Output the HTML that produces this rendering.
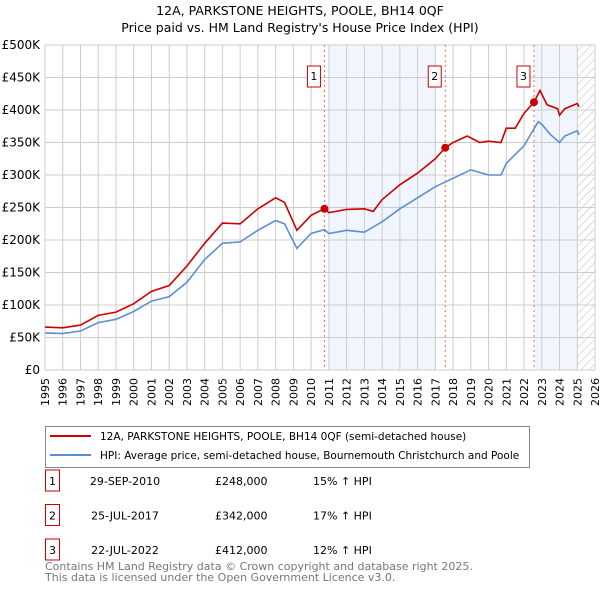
<!DOCTYPE html>
<html><head><meta charset="utf-8"><style>
body{margin:0;background:#fff;font-family:"Liberation Sans","DejaVu Sans",sans-serif;}
svg text{font-family:"DejaVu Sans","Liberation Sans",sans-serif;}
</style></head><body>
<svg width="600" height="590" xmlns="http://www.w3.org/2000/svg">
<defs><pattern id="hatch" width="6" height="6" patternUnits="userSpaceOnUse" patternTransform="rotate(45)"><line x1="0" y1="0" x2="0" y2="6" stroke="#bbb" stroke-width="1"/></pattern></defs>
<text x="300" y="15" text-anchor="middle" font-size="12.5">12A, PARKSTONE HEIGHTS, POOLE, BH14 0QF</text>
<text x="300" y="32" text-anchor="middle" font-size="12.5">Price paid vs. HM Land Registry's House Price Index (HPI)</text>
<g id="plot"></g>
<g id="legend">
<rect x="45.5" y="426.5" width="484" height="41" fill="#fff" stroke="#888"/>
<line x1="50" y1="436" x2="91" y2="436" stroke="#cc0000" stroke-width="2"/>
<text x="100" y="440" font-size="10.5">12A, PARKSTONE HEIGHTS, POOLE, BH14 0QF (semi-detached house)</text>
<line x1="50" y1="455" x2="91" y2="455" stroke="#5b8fd4" stroke-width="2"/>
<text x="100" y="459" font-size="10.5">HPI: Average price, semi-detached house, Bournemouth Christchurch and Poole</text>
</g>
<g id="table" font-size="11"></g>
<text x="45" y="570" font-size="11" fill="#777">Contains HM Land Registry data © Crown copyright and database right 2025.</text>
<text x="45" y="581" font-size="11" fill="#777">This data is licensed under the Open Government Licence v3.0.</text>
</svg>
<script>
const hpiYears=[1995,1996,1997,1998,1999,2000,2001,2002,2003,2004,2005,2006,2007,2008,2008.5,2009.2,2010,2010.75,2011,2012,2013,2014,2015,2016,2017,2018,2019,2020,2020.7,2021,2022,2022.8,2023,2023.5,2024,2024.3,2025,2025.1];
const hpiValues=[57,56,60,73,78,90,106,113,135,170,195,197,215,230,225,187,210,216,210,215,212,228,248,265,282,295,308,300,300,318,345,382,378,362,350,360,368,362];
const redYears=[1995,1996,1997,1998,1999,2000,2001,2002,2003,2004,2005,2006,2007,2008,2008.5,2009.2,2010,2010.75,2011,2012,2013,2013.5,2014,2015,2016,2017,2017.56,2018,2018.8,2019.5,2020,2020.7,2021,2021.5,2022,2022.56,2022.9,2023.3,2023.9,2024,2024.3,2025,2025.1];
const redValues=[66,65,69,84,89,102,121,130,160,195,226,225,248,265,258,215,238,248,242,247,248,244,262,285,303,325,342,350,360,350,352,350,372,372,395,412,430,408,402,392,402,410,405];
const saleYears=[2010.75,2017.56,2022.56];
const saleValues=[248,342,412];
const saleLabels=["1","2","3"];
const saleDates=["29-SEP-2010","25-JUL-2017","22-JUL-2022"];
const salePrices=["£248,000","£342,000","£412,000"];
const saleHpi=["15% ↑ HPI","17% ↑ HPI","12% ↑ HPI"];
const yTicks=[0,50,100,150,200,250,300,350,400,450,500];
const yTickLabels=["£0","£50K","£100K","£150K","£200K","£250K","£300K","£350K","£400K","£450K","£500K"];
const xTicks=[1995,1996,1997,1998,1999,2000,2001,2002,2003,2004,2005,2006,2007,2008,2009,2010,2011,2012,2013,2014,2015,2016,2017,2018,2019,2020,2021,2022,2023,2024,2025,2026];
const shadeStarts=[2011.0,2022.56];
const shadeEnds=[2017.0,2025.0];

const NS="http://www.w3.org/2000/svg";
const X0=45,X1=595,Y0=370,Y1=45;
const xs=y=>X0+(y-1995)/(2026-1995)*(X1-X0);
const ys=v=>Y0-v/500*(Y0-Y1);
const plot=document.getElementById('plot');
function mk(tag,attrs,parent){const e=document.createElementNS(NS,tag);for(const k in attrs)e.setAttribute(k,attrs[k]);(parent||plot).appendChild(e);return e;}
shadeStarts.forEach((s,i)=>{const r=mk('rect',{x:xs(s),y:Y1,width:xs(shadeEnds[i])-xs(s),height:Y0-Y1,fill:'#eef3fd',opacity:0.8});

});
const h=mk('rect',{x:xs(2025),y:Y1,width:X1-xs(2025),height:Y0-Y1,fill:'url(#hatch)'});


xTicks.forEach(t=>{const l=mk('line',{x1:xs(t),x2:xs(t),y1:Y1,y2:Y0,stroke:'#ccc','stroke-width':1});


const tx=mk('text',{x:0,y:0,'font-size':11,'text-anchor':'end',transform:`translate(${xs(t)+4},${Y0+8}) rotate(-90)`});
tx.textContent=t;

});
yTicks.forEach((t,i)=>{const l=mk('line',{x1:X0,x2:X1,y1:ys(t),y2:ys(t),stroke:'#ccc','stroke-width':1});


const tx=mk('text',{x:X0-5,y:ys(t)+4,'font-size':12,'text-anchor':'end'});
tx.textContent=yTickLabels[i];

});
saleYears.forEach((s,i)=>{const l=mk('line',{x1:xs(s),x2:xs(s),y1:Y1,y2:Y0,stroke:'#e66','stroke-width':1,'stroke-dasharray':'2,3'});

});
function path(xa,va,color,name){const d=xa.map((x,i)=>(i?'L':'M')+xs(x).toFixed(1)+','+ys(va[i]).toFixed(1)).join('');
const p=mk('path',{d:d,fill:'none',stroke:color,'stroke-width':1.6});

}
path(hpiYears,hpiValues,'#5b8fd4','hpi-line');
path(redYears,redValues,'#cc0000','property-price-line');
saleYears.forEach((s,i)=>{const c=mk('circle',{cx:xs(s),cy:ys(saleValues[i]),r:4,fill:'#cc0000'});


const b=mk('rect',{x:xs(s)-17,y:66,width:13,height:21,fill:'#fff',stroke:'#cc0000'});


const t=mk('text',{x:xs(s)-10.5,y:80,'font-size':11,'text-anchor':'middle'});
t.textContent=saleLabels[i];

});
const tb=document.getElementById('table');
saleLabels.forEach((s,i)=>{const y=482+i*34.5;
const b=mk('rect',{x:45.5,y:y-12,width:14,height:21,fill:'#fff',stroke:'#cc0000'},tb);


const cells=[[52.5,s,'middle'],[125,saleDates[i],'middle'],[215,salePrices[i],'start'],[313,saleHpi[i],'start']];
cells.forEach(c=>{const t=mk('text',{x:c[0],y:y+3,'text-anchor':c[2]},tb);
t.textContent=c[1];

});});
</script>
</body></html>
